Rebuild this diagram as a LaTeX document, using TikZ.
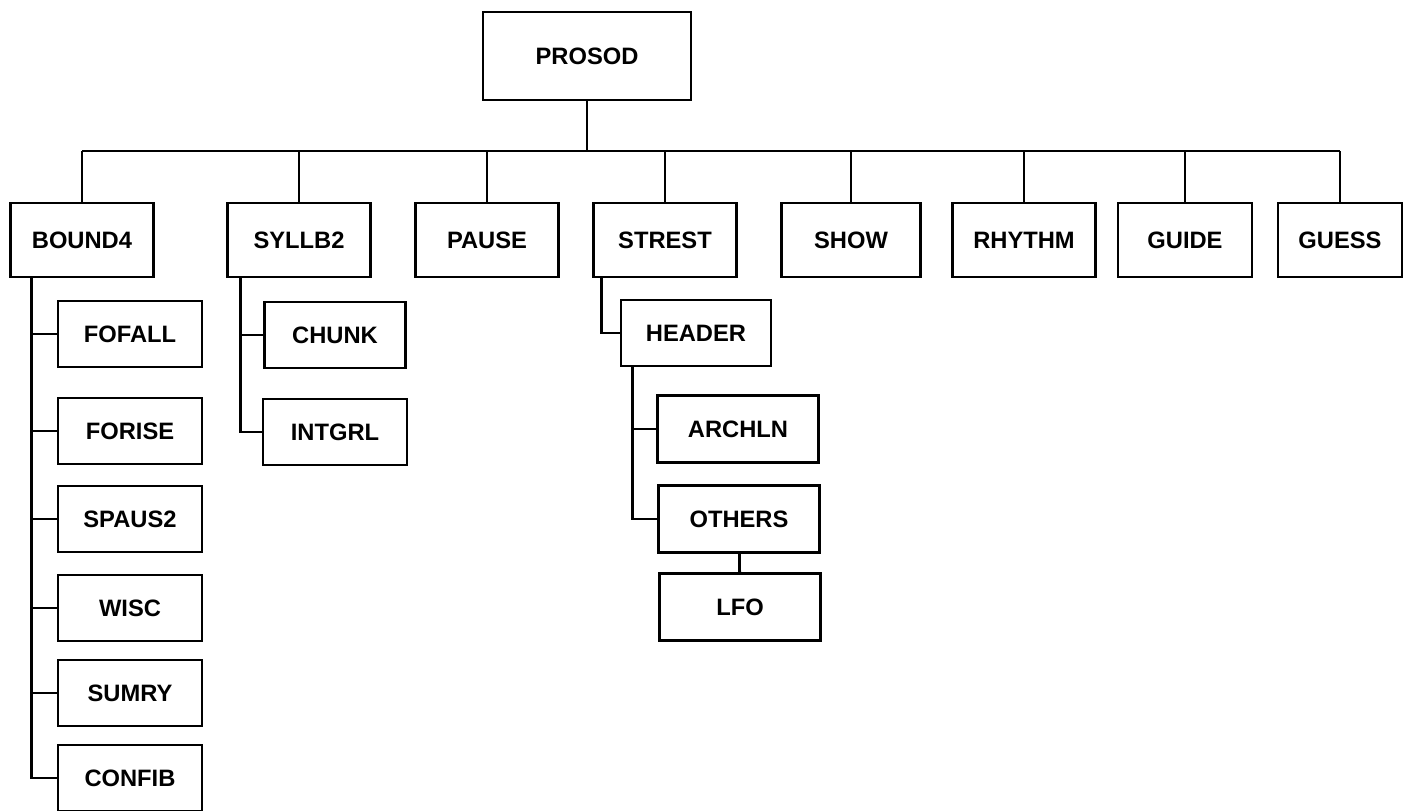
\documentclass[tikz,border=0pt]{standalone}
\usepackage{fontspec}
\setmainfont{Liberation Sans}
\usetikzlibrary{positioning}

\tikzset{
    box/.style={draw, line width=1.6pt, inner sep=0pt, font=\bfseries\fontsize{13.5}{16}\selectfont},
    topbox/.style={box, minimum width=28.6mm, minimum height=14.8mm},
    subbox/.style={box, minimum width=28.8mm, minimum height=13.2mm},
    widebox/.style={box, minimum width=32.2mm, minimum height=13.4mm},
    link/.style={line width=1.6pt}
}

\begin{document}
\begin{tikzpicture}[x=0.02cm, y=-0.02cm]
    \useasboundingbox (0,0) rectangle (1404,811);

    % Draw nodes
    \node[box, minimum width=41.6mm, minimum height=17.6mm] (prosod) at (587,56) {PROSOD};

    \node[topbox] (bound4) at (82,240) {BOUND4};
    \node[topbox] (syllb2) at (299,240) {SYLLB2};
    \node[topbox] (pause) at (487,240) {PAUSE};
    \node[topbox] (strest) at (665,240) {STREST};
    \node[topbox, minimum width=27.8mm] (show) at (851,240) {SHOW};
    \node[topbox] (rhythm) at (1024,240) {RHYTHM};
    \node[topbox, minimum width=26.8mm] (guide) at (1185,240) {GUIDE};
    \node[topbox, minimum width=24.8mm] (guess) at (1340,240) {GUESS};

    \node[subbox] (fofall) at (130,334) {FOFALL};
    \node[subbox] (forise) at (130,431) {FORISE};
    \node[subbox] (spaus2) at (130,519) {SPAUS2};
    \node[subbox] (wisc) at (130,608) {WISC};
    \node[subbox] (sumry) at (130,693) {SUMRY};
    \node[subbox] (confib) at (130,778) {CONFIB};

    \node[subbox, minimum width=28.2mm] (chunk) at (335,335) {CHUNK};
    \node[subbox] (intgrl) at (335,432) {INTGRL};

    \node[subbox, minimum width=30mm] (header) at (696,333) {HEADER};
    \node[widebox] (archln) at (738,429) {ARCHLN};
    \node[widebox] (others) at (739,519) {OTHERS};
    \node[widebox] (lfo) at (740,607) {LFO};

    % Trunk points under the boxes
    \coordinate (bus) at (0,151);
    \coordinate (b4trunk) at ([xshift=4.4mm]bound4.south west);
    \coordinate (s2trunk) at ([xshift=2.8mm]syllb2.south west);
    \coordinate (sttrunk) at ([xshift=1.8mm]strest.south west);
    \coordinate (hdtrunk) at ([xshift=2.6mm]header.south west);

    % Draw connections
    \draw[link] (prosod.south) -- (prosod.south |- bus);
    \draw[link] (bound4.north |- bus) -- (guess.north |- bus);
    \foreach \n in {bound4, syllb2, pause, strest, show, rhythm, guide, guess}
        \draw[link] (\n.north) -- (\n.north |- bus);

    \draw[link] (b4trunk) |- (confib.west);
    \foreach \n in {fofall, forise, spaus2, wisc, sumry}
        \draw[link] (b4trunk |- \n.west) -- (\n.west);

    \draw[link] (s2trunk) |- (intgrl.west);
    \draw[link] (s2trunk |- chunk.west) -- (chunk.west);

    \draw[link] (sttrunk) |- (header.west);
    \draw[link] (hdtrunk) |- (others.west);
    \draw[link] (hdtrunk |- archln.west) -- (archln.west);
    \draw[link] (others) -- (lfo);
\end{tikzpicture}
\end{document}
